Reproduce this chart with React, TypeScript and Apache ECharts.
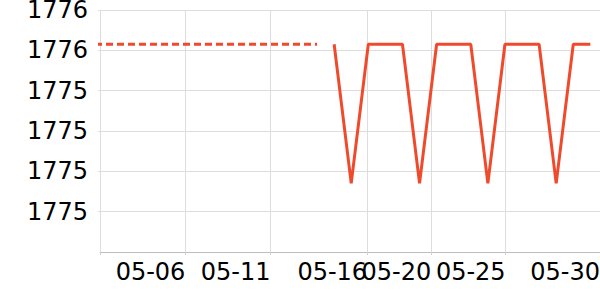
import React, { useEffect, useRef } from "react";
import * as echarts from "echarts";

// ---- data ----
const DASH_DATES = [
  "2024-05-01", "2024-05-02", "2024-05-03", "2024-05-04", "2024-05-05",
  "2024-05-06", "2024-05-07", "2024-05-08", "2024-05-09", "2024-05-10",
  "2024-05-11", "2024-05-12", "2024-05-13", "2024-05-14",
];
const DASH_VALUES = [
  1776.03, 1776.03, 1776.03, 1776.03, 1776.03, 1776.03, 1776.03,
  1776.03, 1776.03, 1776.03, 1776.03, 1776.03, 1776.03, 1776.03,
];
const SOLID_DATES = [
  "2024-05-15", "2024-05-16", "2024-05-17", "2024-05-18", "2024-05-19",
  "2024-05-20", "2024-05-21", "2024-05-22", "2024-05-23", "2024-05-24",
  "2024-05-25", "2024-05-26", "2024-05-27", "2024-05-28", "2024-05-29",
  "2024-05-30",
];
const SOLID_VALUES = [
  1776.03, 1775.34, 1776.03, 1776.03, 1776.03, 1775.34, 1776.03, 1776.03,
  1776.03, 1775.34, 1776.03, 1776.03, 1776.03, 1775.34, 1776.03, 1776.03,
];
const X_MIN = "2024-05-01 07:00";
const X_MAX = "2024-05-30 13:34";
const TICK_TIMES = [
  "2024-05-06 07:00", "2024-05-11 06:34", "2024-05-16 22:23",
  "2024-05-20 16:23", "2024-05-25 01:00", "2024-05-30 13:34",
];
const TICK_LABELS = ["05-06", "05-11", "05-16", "05-20", "05-25", "05-30"];
const Y_MIN = 1775.0;
const Y_MAX = 1776.2;
const Y_INTERVAL = 0.2;

function parseTime(s: string): number {
  const [d, t] = s.split(" ");
  const [y, m, day] = d.split("-").map(Number);
  let hh = 0, mm = 0;
  if (t) {
    const p = t.split(":").map(Number);
    hh = p[0];
    mm = p[1];
  }
  return Date.UTC(y, m - 1, day, hh, mm);
}

export default function App() {
  const ref = useRef<HTMLDivElement>(null);
  useEffect(() => {
    if (!ref.current) return;
    const chart = echarts.init(ref.current, undefined, { renderer: "svg" });
    const xMin = parseTime(X_MIN);
    const xMax = parseTime(X_MAX);
    const tickMs = TICK_TIMES.map(parseTime);
    const font = "DejaVu Sans";
    chart.setOption({
      animation: false,
      textStyle: { fontFamily: font },
      grid: { left: 100, right: 0, top: 10, bottom: 48, containLabel: false, outerBoundsMode: "none" },
      xAxis: {
        type: "value",
        min: xMin,
        max: xMax,
        axisLine: { show: true, lineStyle: { color: "#bdbdbd", width: 1 } },
        axisTick: { show: true, length: 3, lineStyle: { color: "#d0d0d0" }, customValues: [xMin, ...tickMs] },
        splitLine: { show: true, lineStyle: { color: "#dddddd", width: 1 } },
        axisLabel: {
          customValues: tickMs,
          align: "right",
          margin: 8,
          fontSize: 24,
          fontFamily: font,
          color: "#000",
          showMinLabel: true,
          showMaxLabel: true,
          formatter: (v: number) => {
            let best = 0;
            let bd = Infinity;
            tickMs.forEach((t, i) => {
              const d = Math.abs(t - v);
              if (d < bd) { bd = d; best = i; }
            });
            return TICK_LABELS[best];
          },
        },
      },
      yAxis: {
        type: "value",
        min: Y_MIN,
        max: Y_MAX,
        interval: Y_INTERVAL,
        axisLine: { show: false },
        axisTick: { show: true, length: 2, lineStyle: { color: "#dddddd" } },
        splitLine: { show: true, lineStyle: { color: "#dddddd", width: 1 } },
        axisLabel: {
          showMinLabel: false,
          margin: 12,
          fontSize: 24,
          fontFamily: font,
          color: "#000",
          formatter: (v: number) => String(Math.floor(Math.round(v * 1000) / 1000)),
        },
      },
      series: [
        {
          type: "line",
          data: DASH_DATES.map((d, i) => [parseTime(d), DASH_VALUES[i]]),
          showSymbol: false,
          symbol: "none",
          lineStyle: { color: "#f04a2c", width: 3, type: [7, 4] },
        },
        {
          type: "line",
          data: SOLID_DATES.map((d, i) => [parseTime(d), SOLID_VALUES[i]]),
          showSymbol: false,
          symbol: "none",
          lineStyle: { color: "#f04a2c", width: 3 },
        },
      ],
    });
    return () => chart.dispose();
  }, []);
  return (
    <div
      ref={ref}
      style={{ position: "fixed", left: 0, top: 0, width: 600, height: 300, background: "#fff" }}
    />
  );
}
